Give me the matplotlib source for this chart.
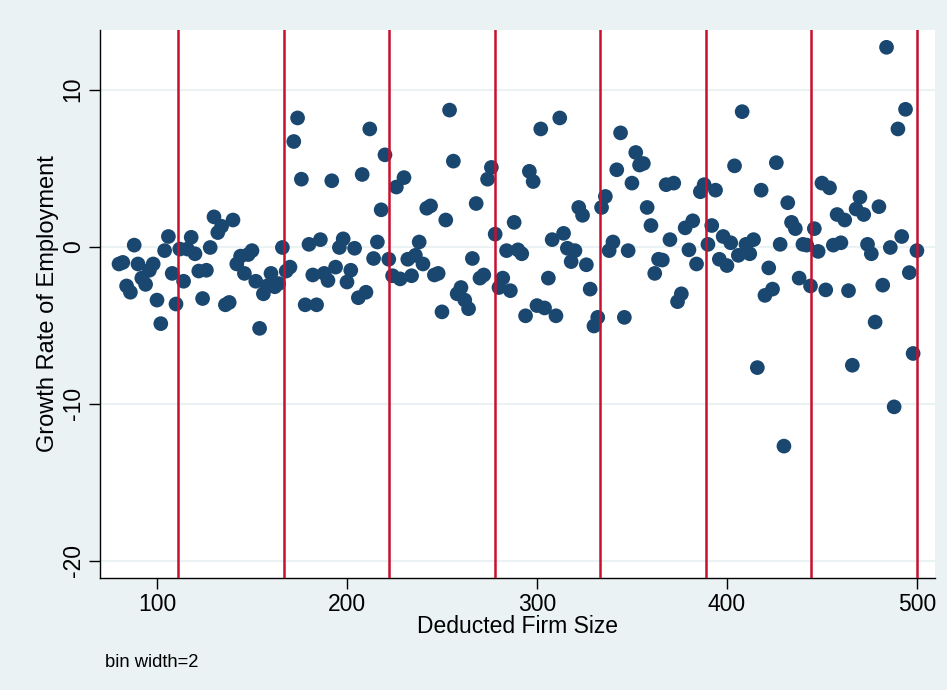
import matplotlib
matplotlib.use("Agg")
import matplotlib.pyplot as plt

plt.rcParams["font.family"] = ["Liberation Sans", "DejaVu Sans"]

# firm size bins (width 2) and employment growth in each bin
firm_size = list(range(80, 502, 2))
growth = [
    -1.1, -1.0, -2.5, -2.9, 0.1, -1.1, -2.0, -2.4, -1.5, -1.1,
    -3.4, -4.9, -0.25, 0.65, -1.7, -3.65, -0.15, -2.2, -0.15, 0.6,
    -0.45, -1.55, -3.3, -1.5, -0.05, 1.9, 0.9, 1.3, -3.7, -3.55,
    1.7, -1.1, -0.6, -1.7, -0.5, -0.25, -2.2, -5.2, -3.0, -2.5,
    -1.7, -2.55, -2.35, -0.05, -1.55, -1.3, 6.7, 8.2, 4.3, -3.7,
    0.15, -1.8, -3.7, 0.45, -1.7, -2.15, 4.2, -1.3, -0.05, 0.5,
    -2.25, -1.5, -0.1, -3.25, 4.6, -2.9, 7.5, -0.75, 0.3, 2.35,
    5.85, -0.8, -1.85, 3.8, -2.05, 4.4, -0.8, -1.85, -0.55, 0.3,
    -1.1, 2.45, 2.6, -1.8, -1.7, -4.15, 1.7, 8.7, 5.45, -3.0,
    -2.6, -3.4, -3.95, -0.75, 2.75, -2.0, -1.8, 4.3, 5.05, 0.8,
    -2.6, -2.0, -0.25, -2.8, 1.55, -0.2, -0.45, -4.4, 4.8, 4.15,
    -3.75, 7.5, -3.9, -2.0, 0.45, -4.4, 8.2, 0.85, -0.1, -0.95,
    -0.25, 2.5, 2.0, -1.15, -2.7, -5.05, -4.5, 2.5, 3.2, -0.25,
    0.3, 4.9, 7.25, -4.5, -0.25, 4.05, 6.0, 5.2, 5.3, 2.5,
    1.35, -1.7, -0.8, -0.85, 3.95, 0.45, 4.05, -3.5, -3.0, 1.2,
    -0.2, 1.65, -1.1, 3.5, 3.95, 0.15, 1.35, 3.6, -0.8, 0.65,
    -1.2, 0.25, 5.15, -0.55, 8.6, 0.15, -0.45, 0.45, -7.7, 3.6,
    -3.1, -1.35, -2.7, 5.35, 0.15, -12.7, 2.8, 1.55, 1.15, -2.0,
    0.15, 0.1, -2.5, 1.15, -0.3, 4.05, -2.75, 3.75, 0.1, 2.05,
    0.25, 1.7, -2.8, -7.55, 2.4, 3.15, 2.05, 0.15, -0.45, -4.8,
    2.55, -2.45, 12.7, -0.05, -10.2, 7.5, 0.65, 8.75, -1.65, -6.8,
    -0.25,
]

# boundaries of the size groups
cutoffs = [500 * k / 9 for k in range(2, 10)]

fig = plt.figure(figsize=(9.47, 6.90), dpi=100, facecolor="#EAF2F3")
ax = fig.add_axes([0.1056, 0.1623, 0.8817, 0.7942])
ax.set_facecolor("white")

for y in [-20, -10, 0, 10]:
    ax.axhline(y, color="#EAF2F3", lw=1.5, zorder=0)

ax.scatter(firm_size, growth, s=112, color="#1A476F", edgecolors="none", zorder=2)

for c in cutoffs:
    ax.axvline(c, color="#C8102E", lw=1.8, zorder=3)

ax.set_xlim(70, 509.5)
ax.set_ylim(-21.1, 13.8)
ax.set_xticks([100, 200, 300, 400, 500])
ax.set_yticks([-20, -10, 0, 10])
ax.set_yticklabels(["-20", "-10", "0", "10"], rotation=90, va="center")
ax.tick_params(axis="both", labelsize=16.5, length=8, width=1, direction="out", pad=3)

for side in ["top", "right"]:
    ax.spines[side].set_visible(False)
for side in ["left", "bottom"]:
    ax.spines[side].set_linewidth(1)

ax.set_xlabel("Deducted Firm Size", fontsize=16.5, labelpad=-1)
ax.set_ylabel("Growth Rate of Employment", fontsize=17, labelpad=2)

fig.text(0.111, 0.0333, "bin width=2", fontsize=13.2, va="baseline")

fig.savefig("out.png", dpi=100, facecolor=fig.get_facecolor())
